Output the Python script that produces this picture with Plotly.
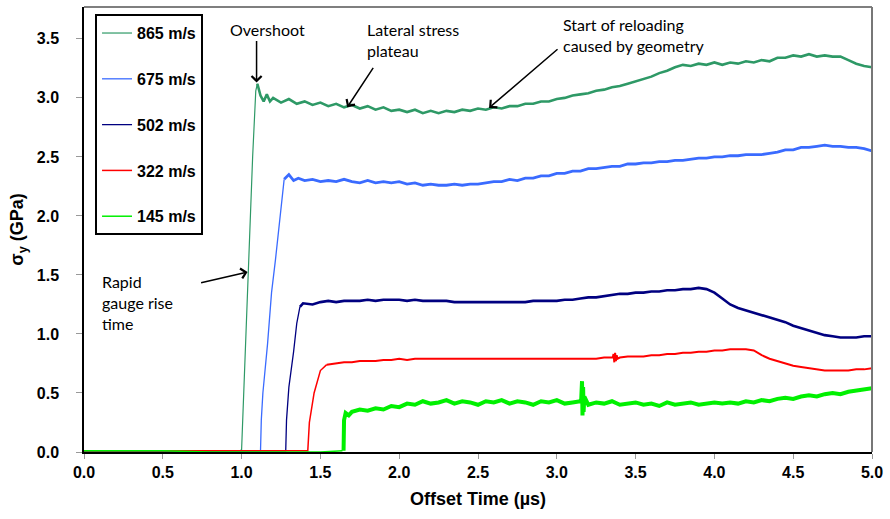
import plotly.graph_objects as go

# ---------------- data ----------------
# common sampling grid for the plateau parts (µs)
T_GRID = [1.40, 1.45, 1.50, 1.55, 1.60, 1.65, 1.70, 1.75, 1.80, 1.85,
          1.90, 1.95, 2.00, 2.05, 2.10, 2.15, 2.20, 2.25, 2.30, 2.35,
          2.40, 2.45, 2.50, 2.55, 2.60, 2.65, 2.70, 2.75, 2.80, 2.85,
          2.90, 2.95, 3.00, 3.05, 3.10, 3.15, 3.20, 3.25, 3.30, 3.35,
          3.40, 3.45, 3.50, 3.55, 3.60, 3.65, 3.70, 3.75, 3.80, 3.85,
          3.90, 3.95, 4.00, 4.05, 4.10, 4.15, 4.20, 4.25, 4.30, 4.35,
          4.40, 4.45, 4.50, 4.55, 4.60, 4.65, 4.70, 4.75, 4.80, 4.85,
          4.90, 4.95, 5.00]

# 865 m/s  (rise = thin gauge-rise part, plat = noisy plateau part)
RISE865_T = [0.0, 0.50, 0.99, 1.00, 1.045, 1.07, 1.09, 1.10]
RISE865_V = [0.01, 0.01, 0.01, 0.02, 1.65, 2.50, 3.06, 3.12]
HEAD865_T = [1.10, 1.12, 1.14, 1.16, 1.18, 1.20, 1.25, 1.30, 1.35]
HEAD865_V = [3.12, 3.02, 2.97, 3.03, 2.97, 3.00, 2.96, 2.99, 2.95]
PLAT865_V = [2.97, 2.94, 2.96, 2.93, 2.95, 2.92, 2.94, 2.91, 2.93, 2.90,
             2.92, 2.89, 2.90, 2.88, 2.90, 2.87, 2.89, 2.87, 2.89, 2.88,
             2.90, 2.89, 2.91, 2.90, 2.92, 2.91, 2.93, 2.93, 2.95, 2.95,
             2.97, 2.97, 2.99, 3.00, 3.02, 3.03, 3.04, 3.06, 3.07, 3.09,
             3.10, 3.12, 3.14, 3.16, 3.18, 3.21, 3.23, 3.26, 3.28, 3.27,
             3.29, 3.28, 3.30, 3.28, 3.30, 3.29, 3.31, 3.30, 3.32, 3.31,
             3.34, 3.34, 3.36, 3.35, 3.37, 3.35, 3.36, 3.35, 3.35, 3.32,
             3.29, 3.27, 3.26]

# 675 m/s
RISE675_T = [0.0, 0.5, 1.0, 1.12, 1.125, 1.135, 1.165, 1.19, 1.215, 1.25, 1.27]
RISE675_V = [0.01, 0.01, 0.01, 0.01, 0.27, 0.50, 0.92, 1.35, 1.63, 2.10, 2.31]
HEAD675_T = [1.27, 1.30, 1.33, 1.36]
HEAD675_V = [2.31, 2.35, 2.30, 2.32]
PLAT675_V = [2.30, 2.31, 2.29, 2.30, 2.29, 2.31, 2.29, 2.28, 2.30, 2.28,
             2.29, 2.28, 2.29, 2.27, 2.28, 2.26, 2.27, 2.26, 2.26, 2.27,
             2.26, 2.27, 2.27, 2.28, 2.29, 2.29, 2.31, 2.30, 2.32, 2.32,
             2.34, 2.34, 2.36, 2.36, 2.38, 2.38, 2.40, 2.40, 2.41, 2.42,
             2.42, 2.44, 2.44, 2.45, 2.45, 2.46, 2.46, 2.47, 2.47, 2.48,
             2.49, 2.49, 2.50, 2.50, 2.51, 2.51, 2.52, 2.52, 2.52, 2.53,
             2.54, 2.56, 2.56, 2.58, 2.58, 2.59, 2.60, 2.59, 2.59, 2.58,
             2.58, 2.57, 2.55]

# 502 m/s
RISE502_T = [0.0, 0.5, 1.0, 1.28, 1.285, 1.30, 1.33, 1.35, 1.37]
RISE502_V = [0.01, 0.01, 0.01, 0.01, 0.27, 0.55, 0.85, 1.09, 1.23]
HEAD502_T = [1.37, 1.39]
HEAD502_V = [1.23, 1.26]
PLAT502_V = [1.25, 1.27, 1.28, 1.27, 1.28, 1.28, 1.28, 1.29, 1.28, 1.29,
             1.29, 1.29, 1.28, 1.29, 1.28, 1.28, 1.28, 1.28, 1.27, 1.27,
             1.27, 1.27, 1.27, 1.27, 1.27, 1.27, 1.27, 1.27, 1.28, 1.28,
             1.28, 1.28, 1.29, 1.29, 1.30, 1.31, 1.31, 1.32, 1.33, 1.34,
             1.34, 1.35, 1.35, 1.36, 1.36, 1.37, 1.37, 1.38, 1.38, 1.39,
             1.38, 1.35, 1.30, 1.25, 1.22, 1.20, 1.18, 1.16, 1.14, 1.12,
             1.10, 1.07, 1.05, 1.03, 1.01, 0.99, 0.98, 0.97, 0.97, 0.97,
             0.98, 0.98]

# 322 m/s
RISE322_T = [0.0, 0.5, 1.0, 1.42, 1.43, 1.46, 1.50, 1.54]
RISE322_V = [0.01, 0.01, 0.01, 0.01, 0.25, 0.50, 0.69, 0.74]
HEAD322_T = [1.54]
HEAD322_V = [0.74]
PLAT322_V = [0.75, 0.76, 0.76, 0.77, 0.77, 0.77, 0.78, 0.78,
             0.79, 0.78, 0.79, 0.79, 0.79, 0.79, 0.79, 0.79, 0.79, 0.79,
             0.79, 0.79, 0.79, 0.79, 0.79, 0.79, 0.79, 0.79, 0.79, 0.79,
             0.79, 0.79, 0.79, 0.79, 0.79, 0.79, 0.80, 0.80, 0.80, 0.81,
             0.81, 0.81, 0.82, 0.82, 0.83, 0.83, 0.84, 0.84, 0.85, 0.85,
             0.86, 0.86, 0.87, 0.87, 0.87, 0.86, 0.82, 0.79, 0.77, 0.75,
             0.73, 0.72, 0.71, 0.70, 0.69, 0.69, 0.69, 0.69, 0.70, 0.70,
             0.71]
BURST322_T = [3.355, 3.36, 3.365, 3.37, 3.375, 3.38, 3.385]
BURST322_V = [0.80, 0.83, 0.76, 0.84, 0.77, 0.82, 0.79]

# 145 m/s
RISE145_T = [0.0, 0.5, 0.8, 1.0, 1.3, 1.5, 1.64]
RISE145_V = [0.01, 0.01, 0.0, 0.0, 0.0, 0.0, 0.01]
HEAD145_T = [1.647, 1.65, 1.66, 1.68]
HEAD145_V = [0.01, 0.27, 0.33, 0.31]
PLAT145_V = [0.34, 0.36, 0.35, 0.37, 0.36, 0.39, 0.38, 0.41,
             0.40, 0.43, 0.41, 0.42, 0.44, 0.41, 0.43, 0.42, 0.40, 0.43,
             0.42, 0.44, 0.41, 0.43, 0.42, 0.40, 0.43, 0.42, 0.44, 0.41,
             0.42, 0.43, 0.40, 0.42, 0.41, 0.43, 0.40, 0.41, 0.42, 0.40,
             0.41, 0.39, 0.42, 0.40, 0.41, 0.42, 0.40, 0.41, 0.42, 0.41,
             0.42, 0.41, 0.43, 0.42, 0.44, 0.43, 0.45, 0.46, 0.45, 0.47,
             0.48, 0.47, 0.49, 0.50, 0.49, 0.51, 0.52, 0.53, 0.54]
SPIKE145_T = [3.155, 3.16, 3.163, 3.167, 3.17, 3.175]
SPIKE145_V = [0.45, 0.60, 0.31, 0.55, 0.34, 0.47]

NAMES = ["865 m/s", "675 m/s", "502 m/s", "322 m/s", "145 m/s"]
COLORS = ["#2E9966", "#3A6BFF", "#000080", "#FF0000", "#00F000"]
RISE_W = [1.2, 1.3, 1.3, 1.5, 1.5]
PLAT_W = [2.6, 2.8, 2.6, 2.0, 4.0]


def build_plateau(head_t, head_v, plat_v, extra_t=(), extra_v=()):
    t = list(head_t) + T_GRID[len(T_GRID) - len(plat_v):]
    v = list(head_v) + list(plat_v)
    pts = sorted(zip(t + list(extra_t), v + list(extra_v)))
    return [p[0] for p in pts], [p[1] for p in pts]


rises = [(RISE865_T, RISE865_V), (RISE675_T, RISE675_V), (RISE502_T, RISE502_V),
         (RISE322_T, RISE322_V), (RISE145_T, RISE145_V)]
plateaus = [
    build_plateau(HEAD865_T, HEAD865_V, PLAT865_V),
    build_plateau(HEAD675_T, HEAD675_V, PLAT675_V),
    build_plateau(HEAD502_T, HEAD502_V, PLAT502_V),
    build_plateau(HEAD322_T, HEAD322_V, PLAT322_V, BURST322_T, BURST322_V),
    build_plateau(HEAD145_T, HEAD145_V, PLAT145_V, SPIKE145_T, SPIKE145_V),
]

fig = go.Figure()
for i in range(len(NAMES)):
    rt, rv = rises[i]
    pt, pv = plateaus[i]
    fig.add_trace(go.Scatter(
        x=rt, y=rv, mode="lines", name=NAMES[i], legendgroup=f"g{i}",
        line=dict(color=COLORS[i], width=RISE_W[i]),
    ))
    fig.add_trace(go.Scatter(
        x=pt, y=pv, mode="lines", name=NAMES[i], legendgroup=f"g{i}", showlegend=False,
        line=dict(color=COLORS[i], width=PLAT_W[i]),
    ))

ANN_FONT = dict(family="Lato, Carlito, sans-serif", size=16, color="black")


def arrow(x, y, ax, ay):
    return dict(x=x, y=y, ax=ax, ay=ay, xref="x", yref="y", text="", showarrow=True,
                arrowhead=4, arrowsize=1.3, arrowwidth=1.5, arrowcolor="black")


annotations = [
    dict(x=1.165, y=3.58, xref="x", yref="y", text="Overshoot", showarrow=False,
         font=ANN_FONT, xanchor="center", yanchor="middle"),
    arrow(1.095, 3.13, 0, -43),
    dict(x=1.785, y=3.49, xref="x", yref="y", text="Lateral stress<br>plateau", showarrow=False,
         font=ANN_FONT, xanchor="left", yanchor="middle", align="left"),
    arrow(1.67, 2.92, 27, -41),
    dict(x=3.025, y=3.53, xref="x", yref="y", text="Start of reloading<br>caused by geometry",
         showarrow=False, font=ANN_FONT, xanchor="left", yanchor="middle", align="left"),
    arrow(2.57, 2.915, 70, -60),
    dict(x=0.10, y=1.27, xref="x", yref="y", text="Rapid<br>gauge rise<br>time", showarrow=False,
         font=ANN_FONT, xanchor="left", yanchor="middle", align="left"),
    arrow(1.038, 1.525, -48, 11),
]

TICK_FONT = dict(family="Liberation Sans, Arial, sans-serif", size=16, color="black", weight="bold")
TITLE_FONT = dict(family="Liberation Sans, Arial, sans-serif", size=18, color="black", weight="bold")

fig.update_layout(
    width=890, height=519,
    margin=dict(l=84, r=16, t=7, b=67),
    paper_bgcolor="white", plot_bgcolor="white",
    showlegend=True,
    legend=dict(x=0.014, y=0.984, xanchor="left", yanchor="top",
                bordercolor="black", borderwidth=2, bgcolor="white",
                font=dict(family="Liberation Sans, Arial, sans-serif", size=16,
                          color="black", weight="bold"),
                traceorder="grouped", tracegroupgap=22, itemwidth=30),
    annotations=annotations,
    xaxis=dict(range=[0, 5.0], tickmode="linear", tick0=0, dtick=0.5, tickformat=".1f",
               showgrid=False, zeroline=False, showline=True, linecolor="black", linewidth=1.5,
               ticks="outside", ticklen=5, tickcolor="#999999", tickfont=TICK_FONT,
               title=dict(text="Offset Time (µs)", font=TITLE_FONT, standoff=12)),
    yaxis=dict(range=[0, 3.77], tickmode="linear", tick0=0, dtick=0.5, tickformat=".1f",
               showgrid=False, zeroline=False, showline=True, linecolor="black", linewidth=1.5,
               ticks="outside", ticklen=6, tickcolor="#999999", tickfont=TICK_FONT,
               ticklabelstandoff=14,
               title=dict(text="σ<sub>y</sub> (GPa)", font=TITLE_FONT, standoff=8)),
    shapes=[
        dict(type="line", xref="paper", yref="paper", x0=0, x1=1, y0=1, y1=1,
             line=dict(color="#555555", width=1.5)),
        dict(type="line", xref="paper", yref="paper", x0=1, x1=1, y0=0, y1=1,
             line=dict(color="#777777", width=2)),
    ],
)

fig.write_html("out.html")
